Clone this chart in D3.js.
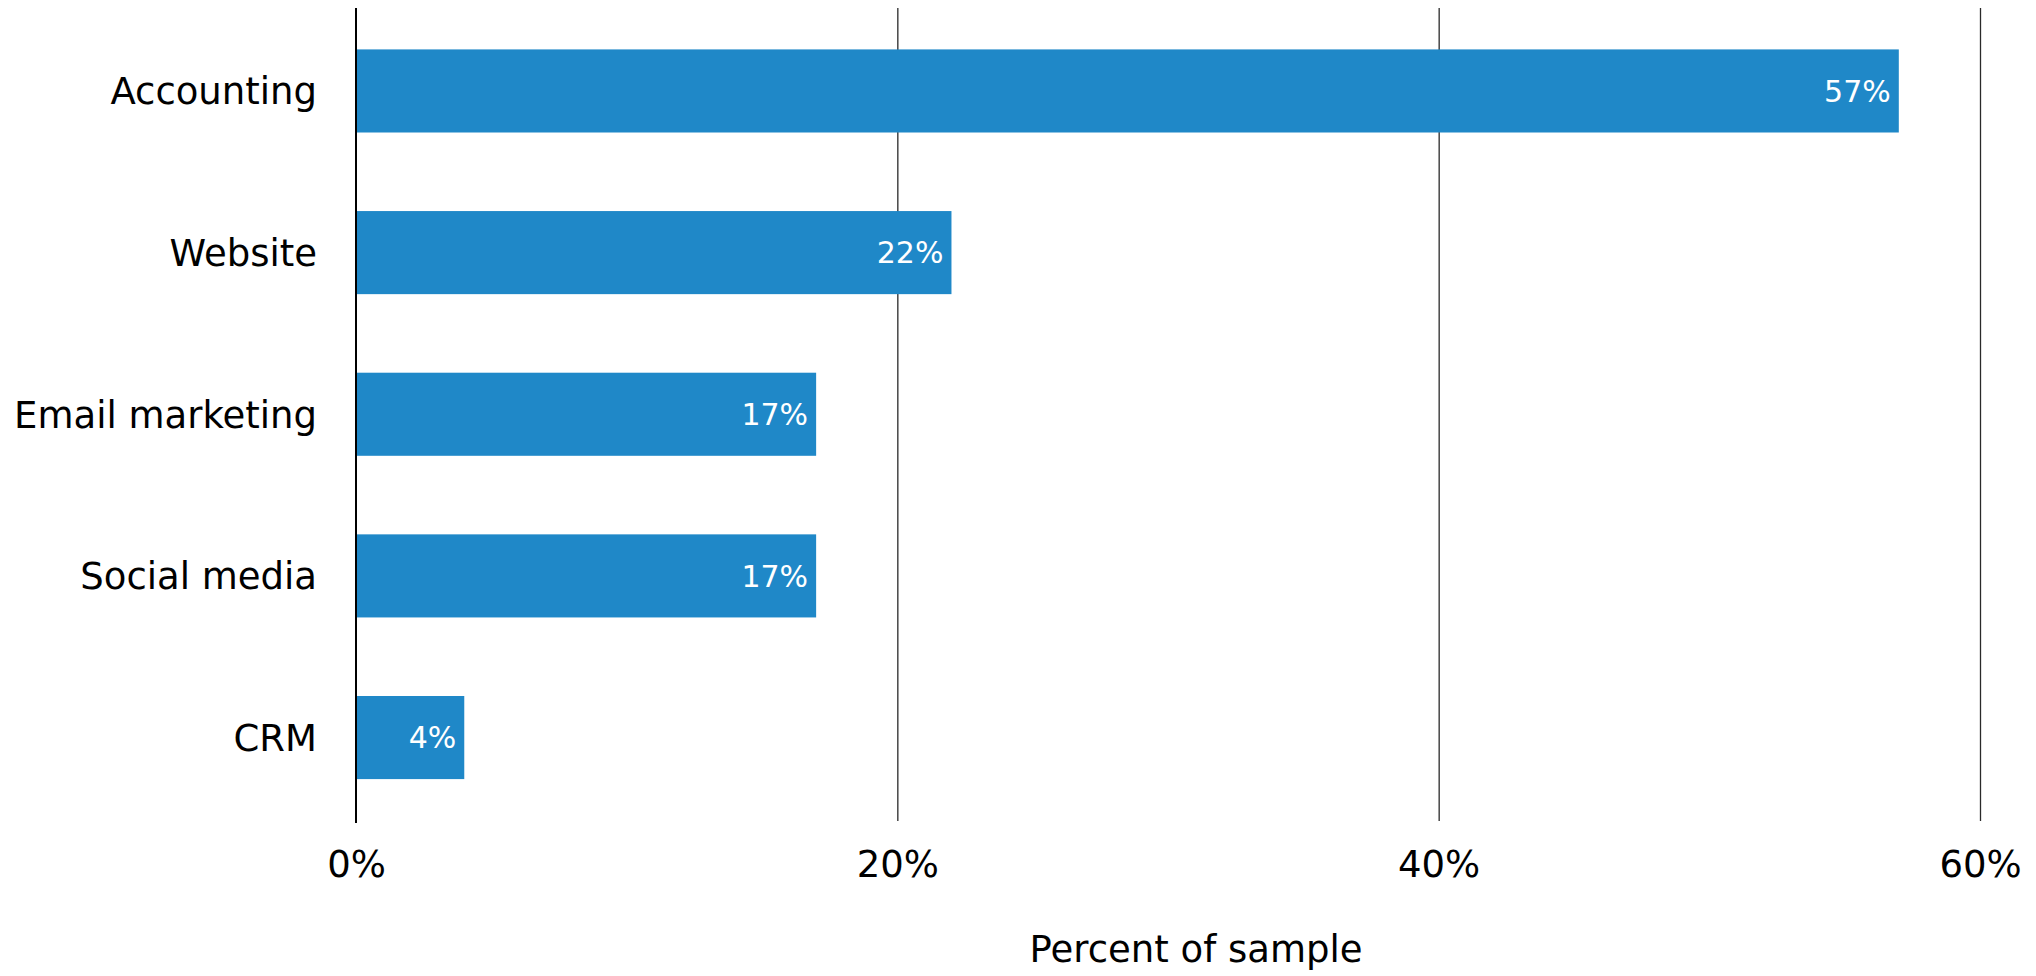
<!DOCTYPE html>
<meta charset="utf-8">
<style>
  body {
    margin: 0;
    background: #fff;
  }

  text {
    font-family: "DejaVu Sans", Verdana, sans-serif;
  }

  .grid line {
    stroke: #2a2a2a;
    stroke-width: 1.3px;
  }

  .cat {
    font-size: 37px;
    fill: #000;
  }

  .tick text {
    font-size: 37px;
    fill: #000;
  }

  .bar {
    fill: #1f88c8;
  }

  .bar-label {
    font-size: 30px;
    fill: #fff;
  }
</style>

<body>
  <script src="https://cdn.jsdelivr.net/npm/d3@7"></script>
  <script>
    // data
    var categories = ["Accounting", "Website", "Email marketing", "Social media", "CRM"];
    var shares = [57, 22, 17, 17, 4];
    var xTicks = [0, 20, 40, 60];

    var width = 2036,
      height = 976;

    // plot area
    var plotLeft = 356,
      plotRight = 1980,
      plotTop = 8,
      plotBottom = 821;

    var svg = d3.select("body").append("svg")
      .attr("width", width)
      .attr("height", height);

    var x = d3.scaleLinear()
      .domain([0, 60])
      .range([plotLeft, plotRight]);

    var y = d3.scaleBand()
      .domain(categories)
      .range([9, 819.5])
      .paddingInner(0.486)
      .paddingOuter(0.25);

    // vertical grid lines (not at zero, the axis line sits there)
    svg.append("g")
      .attr("class", "grid")
      .selectAll("line")
      .data(xTicks.filter(function (d) { return d > 0; }))
      .enter().append("line")
      .attr("x1", function (d) { return x(d) + 0.5; })
      .attr("x2", function (d) { return x(d) + 0.5; })
      .attr("y1", plotTop)
      .attr("y2", plotBottom);

    // bars
    var rows = categories.map(function (c, i) {
      return { name: c, value: shares[i] };
    });

    svg.selectAll(".bar")
      .data(rows)
      .enter().append("rect")
      .attr("class", "bar")
      .attr("x", x(0))
      .attr("y", function (d) { return y(d.name); })
      .attr("width", function (d) { return x(d.value) - x(0); })
      .attr("height", y.bandwidth());

    // value labels inside the bars
    svg.selectAll(".bar-label")
      .data(rows)
      .enter().append("text")
      .attr("class", "bar-label")
      .attr("x", function (d) { return x(d.value) - 8; })
      .attr("y", function (d) { return y(d.name) + y.bandwidth() / 2; })
      .attr("dy", "0.36em")
      .attr("text-anchor", "end")
      .text(function (d) { return d.value + "%"; });

    // category labels
    svg.selectAll(".cat")
      .data(categories)
      .enter().append("text")
      .attr("class", "cat")
      .attr("x", plotLeft - 39)
      .attr("y", function (d) { return y(d) + y.bandwidth() / 2; })
      .attr("dy", "0.36em")
      .attr("text-anchor", "end")
      .text(function (d) { return d; });

    // y axis line
    svg.append("line")
      .attr("x1", plotLeft)
      .attr("x2", plotLeft)
      .attr("y1", plotTop)
      .attr("y2", plotBottom + 2)
      .attr("stroke", "#000")
      .attr("stroke-width", 2);

    // x axis tick labels
    var xAxis = d3.axisBottom(x)
      .tickValues(xTicks)
      .tickSize(0)
      .tickPadding(0)
      .tickFormat(function (d) { return d + "%"; });

    var gx = svg.append("g")
      .attr("transform", "translate(0," + 877 + ")")
      .call(xAxis);
    gx.select(".domain").remove();
    gx.selectAll("text")
      .attr("dy", 0)
      .attr("y", 0);
    gx.attr("font-family", null).attr("font-size", null);

    // axis title
    svg.append("text")
      .attr("x", (plotLeft + width) / 2)
      .attr("y", 962)
      .attr("text-anchor", "middle")
      .style("font-size", "37px")
      .text("Percent of sample");
  </script>
</body>
